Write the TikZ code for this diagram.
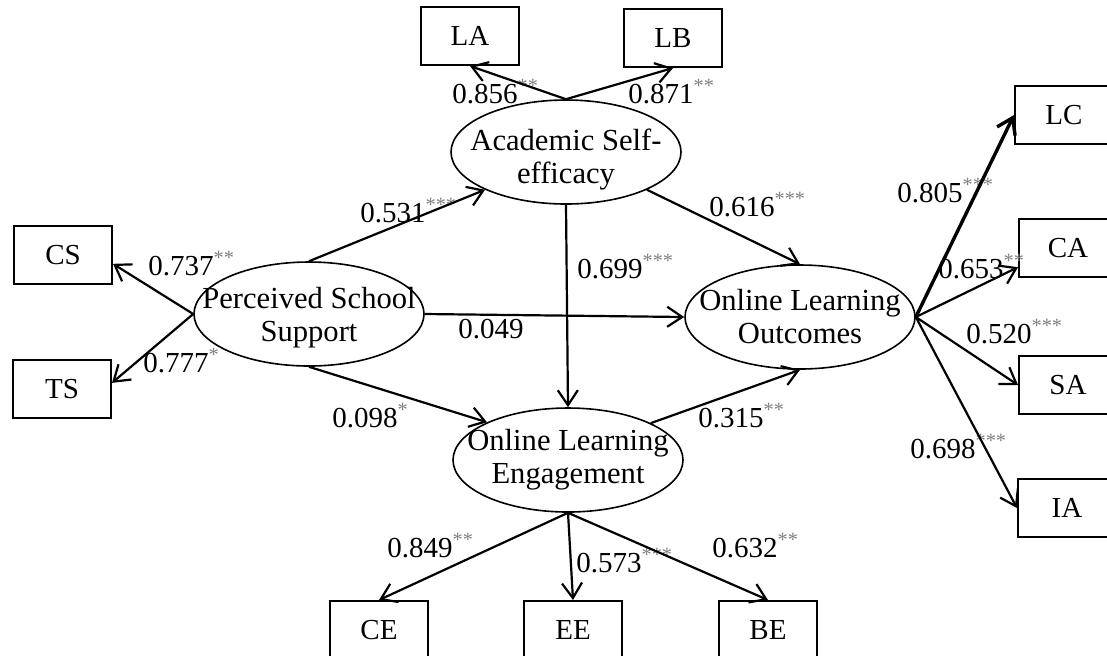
\documentclass[tikz,border=0pt]{standalone}
\usepackage{fontspec}
\setmainfont{Liberation Serif}
\usetikzlibrary{arrows.meta, shapes.geometric}
\newcommand{\stars}[1]{\textsuperscript{\color{gray}#1}}

\begin{document}
\begin{tikzpicture}[
  x=0.5pt, y=-0.5pt,
  font=\fontsize{14.5}{17}\selectfont,
  obs/.style    = {draw, line width=1pt, minimum width=49pt, minimum height=29pt, inner sep=0pt},
  lat/.style    = {draw, ellipse, line width=0.8pt, minimum width=115pt, minimum height=52pt, inner sep=0pt},
  lattxt/.style = {align=center, font=\fontsize{15.3}{16.5}\selectfont, inner sep=0pt},
  coef/.style   = {anchor=base west, inner sep=0pt},
  arr/.style    = {line width=1.1pt, -{Straight Barb[length=7.5pt,width=10pt]}},
  arrB/.style   = {arr, line width=1.7pt},
]
\path[fill=white, use as bounding box] (0,0) rectangle (1107,655);
% latent variables
\node[lat, label={[lattxt, yshift=-4pt]center:{Academic Self-\\efficacy}}] (ase) at (566,152) {};
\node[lat, label={[lattxt, yshift=-2pt]center:{Perceived School\\Support}}] (pss) at (309,314) {};
\node[lat, label={[lattxt]center:{Online Learning\\Engagement}}] (ole) at (568,460) {};
\node[lat, label={[lattxt]center:{Online Learning\\Outcomes}}] (olo) at (800,317) {};
% indicators
\node[obs] (la) at (470,36) {LA};
\node[obs] (lb) at (673,38) {LB};
\node[obs] (cs) at (63,255) {CS};
\node[obs] (ts) at (62,389) {TS};
\node[obs] (ce) at (379,630) {CE};
\node[obs] (ee) at (573,630) {EE};
\node[obs] (be) at (768,630) {BE};
\node[obs] (lc) at (1064,115) {LC};
\node[obs] (ca) at (1068,248) {CA};
\node[obs] (sa) at (1068,385) {SA};
\node[obs] (ia) at (1067,508) {IA};
% coefficients
\node[coef] (l856) at (452,103) {0.856\stars{**}};
\node[coef] (l871) at (628,103) {0.871\stars{**}};
\node[coef] (l531) at (360,222) {0.531\stars{***}};
\node[coef] (l616) at (709,216) {0.616\stars{***}};
\node[coef] (l699) at (577,278) {0.699\stars{***}};
\node[coef] (l737) at (148,275) {0.737\stars{**}};
\node[coef] (l777) at (143,372) {0.777\stars{*}};
\node[coef] (l049) at (458,338) {0.049};
\node[coef] (l098) at (332,427) {0.098\stars{*}};
\node[coef] (l315) at (698,427) {0.315\stars{**}};
\node[coef] (l849) at (387,557) {0.849\stars{**}};
\node[coef] (l573) at (576,572) {0.573\stars{***}};
\node[coef] (l632) at (712,557) {0.632\stars{**}};
\node[coef] (l805) at (897,202) {0.805\stars{***}};
\node[coef] (l653) at (938,278) {0.653\stars{**}};
\node[coef] (l520) at (966,343) {0.520\stars{***}};
\node[coef] (l698) at (910,458) {0.698\stars{***}};
% paths
\draw[arr] (ase.north) -- (la.south);
\draw[arr] (ase.north) -- (lb.south);
\draw[arr] (pss.west) -- (cs.-10);
\draw[arr] (pss.west) -- (ts.7);
\draw[arr] (pss.north) -- (ase.205);
\draw[arr] (pss.east) -- (olo.west);
\draw[arr] (pss.south) -- (ole.155);
\draw[arr] (ase.south) -- (ole.north);
\draw[arr] (ase.-25) -- (olo.north);
\draw[arr] (ole.24) -- (olo.south);
\draw[arr] (ole.south) -- (ce.north);
\draw[arr] (ole.south) -- (ee.north);
\draw[arr] (ole.south) -- (be.north);
\draw[arrB] (olo.east) -- (lc.west);
\draw[arr] (olo.east) -- (ca.201);
\draw[arr] (olo.east) -- (sa.west);
\draw[arr] (olo.east) -- (ia.west);
\end{tikzpicture}
\end{document}
